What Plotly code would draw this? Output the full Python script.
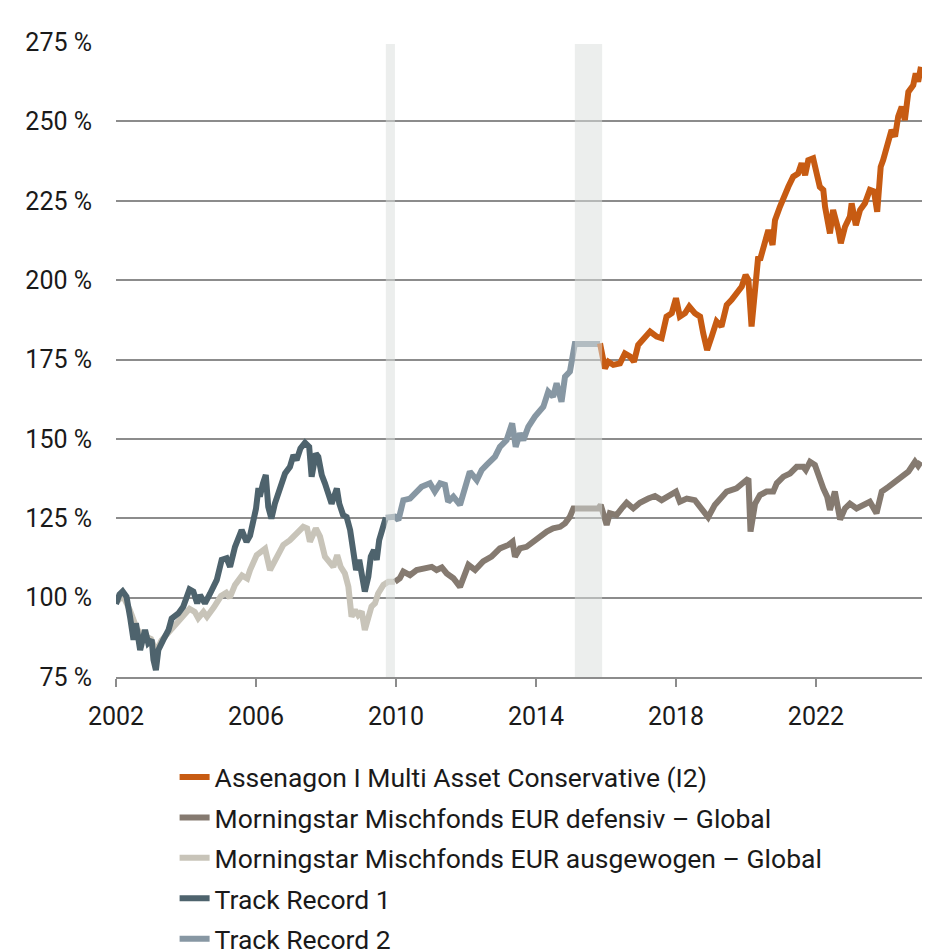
import plotly.graph_objects as go

# ---------------- data ----------------
tr1_x = [2002.0, 2002.1, 2002.19, 2002.3, 2002.4, 2002.5, 2002.57, 2002.69, 2002.83, 2002.92, 2003.02, 2003.07,
         2003.14, 2003.21, 2003.35, 2003.5, 2003.59, 2003.78, 2003.92, 2004.1, 2004.21, 2004.32, 2004.4, 2004.54,
         2004.69, 2004.88, 2005.02, 2005.16, 2005.26, 2005.4, 2005.59, 2005.73, 2005.83, 2005.9, 2006.0, 2006.07,
         2006.11, 2006.2, 2006.28, 2006.35, 2006.44, 2006.54, 2006.69, 2006.83, 2006.97, 2007.07, 2007.16, 2007.27,
         2007.4, 2007.52, 2007.59, 2007.71, 2007.78, 2007.88, 2007.97, 2008.07, 2008.16, 2008.31, 2008.38, 2008.49,
         2008.59, 2008.69, 2008.78, 2008.86, 2008.95, 2009.05, 2009.11, 2009.21, 2009.28, 2009.37, 2009.45, 2009.52,
         2009.62, 2009.71]
tr1_y = [98.0, 101.0, 102.0, 100.3, 94.0, 86.7, 91.9, 83.5, 89.8, 85.7, 86.7, 80.4,
         77.2, 83.5, 86.7, 89.8, 93.4, 95.0, 97.1, 102.6, 101.9, 98.2, 100.8, 98.2,
         101.3, 105.6, 111.9, 112.4, 109.7, 116.0, 121.3, 117.6, 119.5, 123.4, 128.0, 134.5,
         131.8, 136.0, 138.6, 128.6, 124.9, 129.6, 134.9, 139.1, 141.2, 144.9, 143.3, 147.0,
         148.8, 147.5, 138.1, 145.4, 144.4, 138.6, 136.0, 131.8, 129.6, 134.4, 129.6, 126.0,
         125.4, 121.3, 112.9, 108.7, 111.9, 106.6, 101.9, 106.6, 112.9, 115.0, 111.9, 118.1,
         121.3, 125.2]

ausg_x = [2002.0, 2002.2, 2002.4, 2002.6, 2002.8, 2003.0, 2003.15, 2003.3, 2003.5, 2003.7, 2003.9, 2004.1,
          2004.25, 2004.35, 2004.5, 2004.6, 2004.8, 2005.0, 2005.15, 2005.25, 2005.4, 2005.6, 2005.75, 2005.83,
          2006.02, 2006.26, 2006.4, 2006.59, 2006.78, 2006.97, 2007.16, 2007.35, 2007.46, 2007.54, 2007.71, 2007.83,
          2007.97, 2008.11, 2008.21, 2008.32, 2008.42, 2008.54, 2008.64, 2008.73, 2008.83, 2008.92, 2009.02, 2009.11,
          2009.21, 2009.3, 2009.4, 2009.49, 2009.64, 2009.78, 2009.97]
ausg_y = [98.5, 100.5, 96.0, 90.0, 88.0, 87.0, 83.0, 86.5, 89.0, 91.5, 93.5, 96.5,
          95.5, 93.5, 95.5, 94.0, 97.0, 100.5, 101.5, 100.0, 104.0, 107.0, 106.0, 108.7,
          113.4, 115.4, 108.7, 112.9, 116.6, 118.1, 120.2, 122.3, 121.8, 117.6, 121.8, 119.2,
          112.9, 110.8, 109.7, 113.4, 109.7, 107.6, 103.4, 94.0, 96.1, 94.5, 95.6, 89.8,
          94.0, 97.2, 98.2, 101.3, 104.0, 105.0, 105.0]

tr2_x = [2009.71, 2009.85, 2009.97, 2010.07, 2010.21, 2010.4, 2010.54, 2010.73, 2010.97, 2011.11, 2011.26, 2011.4,
         2011.49, 2011.64, 2011.83, 2011.97, 2012.11, 2012.31, 2012.45, 2012.59, 2012.83, 2012.97, 2013.16, 2013.32,
         2013.42, 2013.54, 2013.64, 2013.78, 2013.97, 2014.21, 2014.35, 2014.49, 2014.59, 2014.73, 2014.83, 2014.97,
         2015.05, 2015.11, 2015.83]
tr2_y = [125.2, 125.3, 125.5, 124.4, 130.7, 131.2, 132.8, 134.9, 136.0, 133.4, 136.0, 135.5,
         130.2, 131.8, 129.2, 134.9, 139.7, 137.0, 140.2, 141.8, 144.4, 147.5, 149.6, 154.9,
         147.5, 151.7, 149.6, 153.8, 157.0, 160.1, 164.9, 163.3, 167.5, 161.7, 169.6, 171.2,
         178.0, 179.9, 179.9]

def_x = [2009.97, 2010.11, 2010.21, 2010.4, 2010.59, 2010.78, 2011.02, 2011.16, 2011.31, 2011.45, 2011.64, 2011.83,
         2012.07, 2012.26, 2012.49, 2012.73, 2012.97, 2013.21, 2013.33, 2013.4, 2013.54, 2013.73, 2013.92, 2014.11,
         2014.31, 2014.49, 2014.69, 2014.83, 2014.97, 2015.07, 2015.78, 2015.85, 2016.02, 2016.11, 2016.3, 2016.45,
         2016.59, 2016.78, 2016.97, 2017.21, 2017.4, 2017.59, 2017.83, 2018.0, 2018.11, 2018.31, 2018.54, 2018.73,
         2018.92, 2019.11, 2019.3, 2019.45, 2019.73, 2019.92, 2020.07, 2020.13, 2020.26, 2020.4, 2020.59, 2020.78,
         2020.88, 2021.07, 2021.26, 2021.45, 2021.64, 2021.71, 2021.83, 2021.97, 2022.11, 2022.21, 2022.32, 2022.4,
         2022.54, 2022.69, 2022.83, 2022.97, 2023.16, 2023.35, 2023.54, 2023.73, 2023.88, 2024.07, 2024.26, 2024.45,
         2024.64, 2024.83, 2024.92, 2025.0]
def_y = [105.0, 106.1, 108.2, 107.1, 108.7, 109.2, 109.7, 108.7, 109.5, 107.6, 106.1, 103.4,
         110.3, 108.7, 111.4, 112.9, 115.5, 116.6, 117.6, 112.9, 115.5, 116.0, 117.6, 118.7,
         120.8, 121.8, 122.3, 123.4, 125.5, 128.1, 128.1, 129.2, 122.9, 126.6, 126.0, 128.1,
         129.9, 128.1, 129.9, 131.2, 132.0, 130.7, 132.6, 133.4, 130.2, 131.2, 130.7, 128.1,
         125.3, 129.2, 131.6, 133.4, 134.4, 136.0, 137.5, 120.8, 129.6, 132.3, 133.4, 133.4,
         136.0, 138.1, 139.1, 141.2, 141.2, 140.2, 142.8, 141.8, 137.0, 134.4, 131.8, 127.6,
         133.4, 124.6, 128.1, 129.6, 128.1, 128.9, 130.2, 126.6, 133.4, 134.9, 136.5, 138.1,
         139.7, 142.8, 141.5, 142.8]

mac_x = [2015.83, 2015.97, 2016.07, 2016.21, 2016.4, 2016.54, 2016.69, 2016.8, 2016.92, 2017.07, 2017.26, 2017.45,
         2017.59, 2017.73, 2017.88, 2018.0, 2018.11, 2018.26, 2018.38, 2018.54, 2018.69, 2018.78, 2018.89, 2019.02,
         2019.16, 2019.3, 2019.45, 2019.59, 2019.73, 2019.88, 2019.99, 2020.07, 2020.16, 2020.26, 2020.35, 2020.4,
         2020.54, 2020.64, 2020.76, 2020.83, 2020.97, 2021.07, 2021.21, 2021.35, 2021.49, 2021.59, 2021.69, 2021.78,
         2021.92, 2022.02, 2022.11, 2022.21, 2022.26, 2022.4, 2022.49, 2022.64, 2022.71, 2022.83, 2022.97, 2023.02,
         2023.14, 2023.26, 2023.4, 2023.54, 2023.66, 2023.75, 2023.85, 2023.92, 2024.04, 2024.16, 2024.26, 2024.35,
         2024.45, 2024.54, 2024.64, 2024.78, 2024.85, 2024.92, 2025.0]
mac_y = [180.1, 172.2, 174.3, 173.3, 173.8, 176.9, 175.9, 174.3, 179.6, 181.7, 183.8, 182.2,
         181.7, 188.5, 189.6, 194.3, 188.5, 189.6, 191.7, 189.6, 188.5, 183.2, 178.0, 182.2,
         187.0, 185.4, 192.2, 193.8, 195.9, 198.0, 201.6, 200.1, 185.4, 196.9, 207.4, 206.3,
         211.6, 215.8, 211.1, 218.9, 223.1, 226.2, 229.4, 232.6, 233.6, 236.8, 233.1, 237.8,
         238.4, 233.6, 229.4, 228.4, 223.1, 214.7, 222.1, 215.8, 211.6, 216.8, 220.0, 224.2,
         217.3, 222.1, 224.2, 228.4, 227.9, 221.5, 235.7, 237.8, 242.0, 247.3, 245.2, 251.5,
         254.6, 250.4, 259.3, 261.4, 265.1, 262.5, 267.2]

series_names = ["Assenagon I Multi Asset Conservative (I2)",
                "Morningstar Mischfonds EUR defensiv – Global",
                "Morningstar Mischfonds EUR ausgewogen – Global",
                "Track Record 1",
                "Track Record 2"]

band_ranges = [(2009.71, 2009.97), (2015.11, 2015.89)]

x_tick_vals = [2002, 2006, 2010, 2014, 2018, 2022]
x_tick_text = ["2002", "2006", "2010", "2014", "2018", "2022"]
y_tick_vals = [75, 100, 125, 150, 175, 200, 225, 250, 275]
y_tick_text = ["75 %", "100 %", "125 %", "150 %", "175 %", "200 %", "225 %", "250 %", "275 %"]

# ---------------- styling ----------------
FONT = "Roboto, Lato, 'Noto Sans', sans-serif"
C_MAC = "#C75B12"
C_DEF = "#857A70"
C_AUS = "#C8C4B9"
C_TR1 = "#4E636D"
C_TR2 = "#8797A3"
GRID = "#8C8C8C"
TXT = "#1a1a1a"
LW = 6

fig = go.Figure()

def add(xs, ys, name, color, rank):
    fig.add_trace(go.Scatter(x=xs, y=ys, name=name, mode="lines",
                             line=dict(color=color, width=LW),
                             legendrank=rank, legendgroup=name,
                             hoverinfo="skip"))

add(ausg_x, ausg_y, series_names[2], C_AUS, 3)
add(tr1_x, tr1_y, series_names[3], C_TR1, 4)
add(def_x, def_y, series_names[1], C_DEF, 2)
add(tr2_x, tr2_y, series_names[4], C_TR2, 5)
add(mac_x, mac_y, series_names[0], C_MAC, 1)

for (b0, b1) in band_ranges:
    fig.add_shape(type="rect", xref="x", yref="y", x0=b0, x1=b1, y0=75, y1=274.4,
                  fillcolor="rgba(219,222,220,0.52)", line=dict(width=0), layer="above")

# the page body adds an 8px offset, so the figure is 8px smaller and margins compensate
fig.update_layout(
    width=924, height=944,
    margin=dict(l=108, r=10, t=34, b=275, autoexpand=False),
    paper_bgcolor="white", plot_bgcolor="white",
    font=dict(family=FONT, size=25, color=TXT),
    showlegend=True,
    legend=dict(orientation="v", x=0.0727, xanchor="left", y=-0.12, yanchor="top",
                font=dict(family=FONT, size=26.5, color=TXT),
                tracegroupgap=3, itemwidth=30, bgcolor="rgba(0,0,0,0)"),
    xaxis=dict(range=[2002, 2025.03], tickmode="array", tickvals=x_tick_vals, ticktext=x_tick_text,
               showgrid=False, zeroline=False, showline=True, linecolor=GRID, linewidth=2,
               ticks="outside", ticklen=8, tickwidth=2, tickcolor=GRID, ticklabelstandoff=8,
               automargin=False,
               tickfont=dict(family=FONT, size=25, color=TXT)),
    xaxis2=dict(overlaying="x", matches="x", anchor="y", side="bottom",
                tickmode="array", tickvals=x_tick_vals, showticklabels=False,
                showgrid=False, zeroline=False, showline=False, automargin=False,
                ticks="inside", ticklen=8, tickwidth=2, tickcolor=GRID),
    yaxis=dict(range=[75, 275], tickmode="array", tickvals=y_tick_vals, ticktext=y_tick_text,
               showgrid=True, gridcolor=GRID, gridwidth=2, zeroline=False, showline=False,
               ticks="", ticklabelstandoff=23, automargin=False,
               tickfont=dict(family=FONT, size=25, color=TXT)),
)

fig.write_html("out.html")
